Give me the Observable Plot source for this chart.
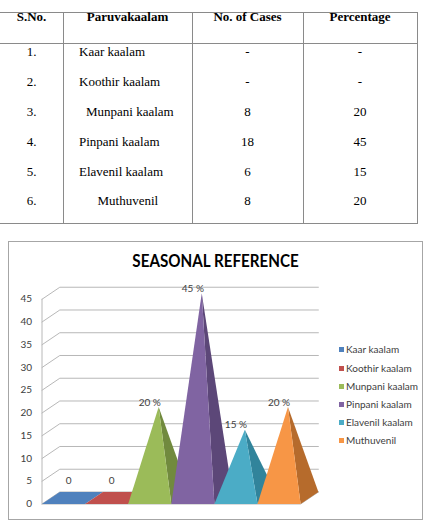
<!DOCTYPE html>
<html>
<head>
<meta charset="utf-8">
<script src="https://cdn.jsdelivr.net/npm/d3@7"></script>
<script src="https://cdn.jsdelivr.net/npm/@observablehq/plot@0.6"></script>
<style>
  html, body { margin: 0; padding: 0; background: #fff; }
  body { width: 426px; height: 522px; position: relative; overflow: hidden; }
  .tline { position: absolute; background: #8a8a8a; }
  .cell { position: absolute; font-family: "Liberation Serif", "Times New Roman", serif; font-size: 13px; color: #000; height: 16px; line-height: 16px; white-space: pre; }
  .head { font-weight: bold; text-align: center; }
  #chartBox { position: absolute; left: 8px; top: 241px; width: 413px; height: 277px; border: 1px solid #a6a6a6; }
  #chartBox svg { position: absolute; left: 0; top: 0; }
  #title { position: absolute; left: 0; top: 8px; width: 413px; text-align: center; font-family: Lato, "Open Sans", sans-serif; font-weight: bold; font-size: 16.5px; line-height: 22px; color: #000; transform: scaleX(0.92); transform-origin: 206.5px 50%; }
  .lg { position: absolute; font-family: Lato, "Open Sans", sans-serif; font-size: 10px; color: #404040; height: 12px; line-height: 12px; white-space: nowrap; }
  .lg span { display: inline-block; width: 5px; height: 5px; margin-right: 2px; vertical-align: 1px; }
</style>
</head>
<body>
<div id="table"></div>
<div id="chartBox"><div id="title">SEASONAL REFERENCE</div></div>
<script>
// Seasons (paruvakaalam) and their case counts
const tableHeaders = ["S.No.", "Paruvakaalam", "No. of Cases", "Percentage"];
const serialNos = ["1.", "2.", "3.", "4.", "5.", "6."];
const seasons = ["Kaar kaalam", "Koothir kaalam", "Munpani kaalam", "Pinpani kaalam", "Elavenil kaalam", "Muthuvenil"];
const cases = [null, null, 8, 18, 6, 8];
const percentages = [null, null, 20, 45, 15, 20];
const yTicks = [0, 5, 10, 15, 20, 25, 30, 35, 40, 45];

// Series palette: lit face and shaded side face of each pyramid
const faceColors = ["#4f81bd", "#c0504d", "#9bbb59", "#8064a2", "#4bacc6", "#f79646"];
const sideColors = ["#3d6696", "#943b39", "#718a3e", "#5c4778", "#31849b", "#b66b2c"];

// ---------- table ----------
const table = document.getElementById("table");
const colEdges = [0, 63, 192, 303, 417];
const rowCenters = [52, 82, 112, 142, 172, 201];
const nameIndent = [79, 79, 86, 79, 79, 97.5];

function line(x, y, w, h) {
  const d = document.createElement("div");
  d.className = "tline";
  Object.assign(d.style, { left: x + "px", top: y + "px", width: w + "px", height: h + "px" });
  table.appendChild(d);
}
line(0, 12, 418, 1);
line(0, 43, 418, 1);
line(0, 223, 418, 1);
colEdges.slice(1).forEach(x => line(x, 12, 1, 212));

function cell(text, left, width, center, cls, align) {
  const d = document.createElement("div");
  d.className = "cell " + (cls || "");
  d.textContent = text;
  Object.assign(d.style, { left: left + "px", top: (center - 8) + "px" });
  if (width != null) { d.style.width = width + "px"; d.style.textAlign = align || "center"; }
  table.appendChild(d);
}
tableHeaders.forEach((h, j) => cell(h, colEdges[j], colEdges[j + 1] - colEdges[j], 17, "head"));
const dash = v => (v == null ? "-" : String(v));
seasons.forEach((s, i) => {
  const cy = rowCenters[i];
  cell(serialNos[i], colEdges[0], colEdges[1] - colEdges[0], cy);
  cell(s, nameIndent[i], null, cy);
  cell(dash(cases[i]), colEdges[2], colEdges[3] - colEdges[2], cy);
  cell(dash(percentages[i]), colEdges[3], colEdges[4] - colEdges[3], cy);
});

// ---------- 3-D pyramid chart ----------
// Oblique projection: depth shifts points right (in category units) and up (in value units)
const DX = 0.413, DY = 2.64;
const n = seasons.length;
const values = percentages.map(v => v ?? 0);

const faces = [];
values.forEach((v, i) => {
  const add = (id, color, pts) => pts.forEach(([x, y]) => faces.push({ id, color, x, y }));
  if (v > 0) {
    const apex = [i + 0.5 + DX / 2, v + DY / 2];
    add(`side${i}`, sideColors[i], [[i + 1, 0], [i + 1 + DX, DY], apex]);
    add(`front${i}`, faceColors[i], [[i, 0], [i + 1, 0], apex]);
  } else {
    add(`flat${i}`, faceColors[i], [[i, 0], [i + 1, 0], [i + 1 + DX, DY], [i + DX, DY]]);
  }
});

// Wall gridlines: diagonal on the side wall, then straight along the back wall
const grid = [];
yTicks.forEach(t => {
  grid.push({ g: t, x: 0, y: t }, { g: t, x: DX, y: t + DY }, { g: t, x: n + DX, y: t + DY });
});
const floor = [{ x: 0, y: 0 }, { x: n, y: 0 }, { x: n + DX, y: DY }];

const labels = values.map((v, i) => ({
  x: i + 0.5,
  y: v,
  text: v > 0 ? `${v} %` : "0",
  zero: v === 0
}));

const chart = Plot.plot({
  width: 413,
  height: 277,
  margin: 0,
  x: { domain: [0, n], range: [32.5, 291.1], axis: null },
  y: { domain: [0, 45], range: [261.5, 56.75], axis: null },
  style: { background: "transparent", overflow: "visible" },
  marks: [
    Plot.line(grid, { x: "x", y: "y", z: "g", stroke: "#b8b8b8", strokeWidth: 1 }),
    Plot.ruleX([0], { y1: 0, y2: 45, stroke: "#b8b8b8", strokeWidth: 1 }),
    Plot.line(floor, { x: "x", y: "y", stroke: "#b8b8b8", strokeWidth: 1 }),
    Plot.line(faces, { x: "x", y: "y", z: "id", fill: "color", stroke: "none", curve: "linear-closed" }),
    Plot.text(yTicks, { x: 0, y: d => d, text: d => String(d), dx: -10, textAnchor: "end", fontSize: 10, fill: "#404040", fontFamily: "Lato, sans-serif" }),
    Plot.text(labels.filter(d => !d.zero), { x: "x", y: "y", text: "text", dy: -10.5, fontSize: 10, fill: "#404040", fontFamily: "Lato, sans-serif" }),
    Plot.text(labels.filter(d => d.zero), { x: "x", y: "y", text: "text", dx: 5, dy: -23.5, fontSize: 10, fill: "#404040", fontFamily: "Lato, sans-serif" })
  ]
});
const box = document.getElementById("chartBox");
box.appendChild(chart);

// Legend
const legendTop = [107, 125.7, 143.7, 161.7, 179.7, 198];
seasons.forEach((s, i) => {
  const d = document.createElement("div");
  d.className = "lg";
  d.style.left = "330px";
  d.style.top = (legendTop[i] - 6) + "px";
  const sw = document.createElement("span");
  sw.style.background = faceColors[i];
  d.appendChild(sw);
  d.appendChild(document.createTextNode(s));
  box.appendChild(d);
});
</script>
</body>
</html>
